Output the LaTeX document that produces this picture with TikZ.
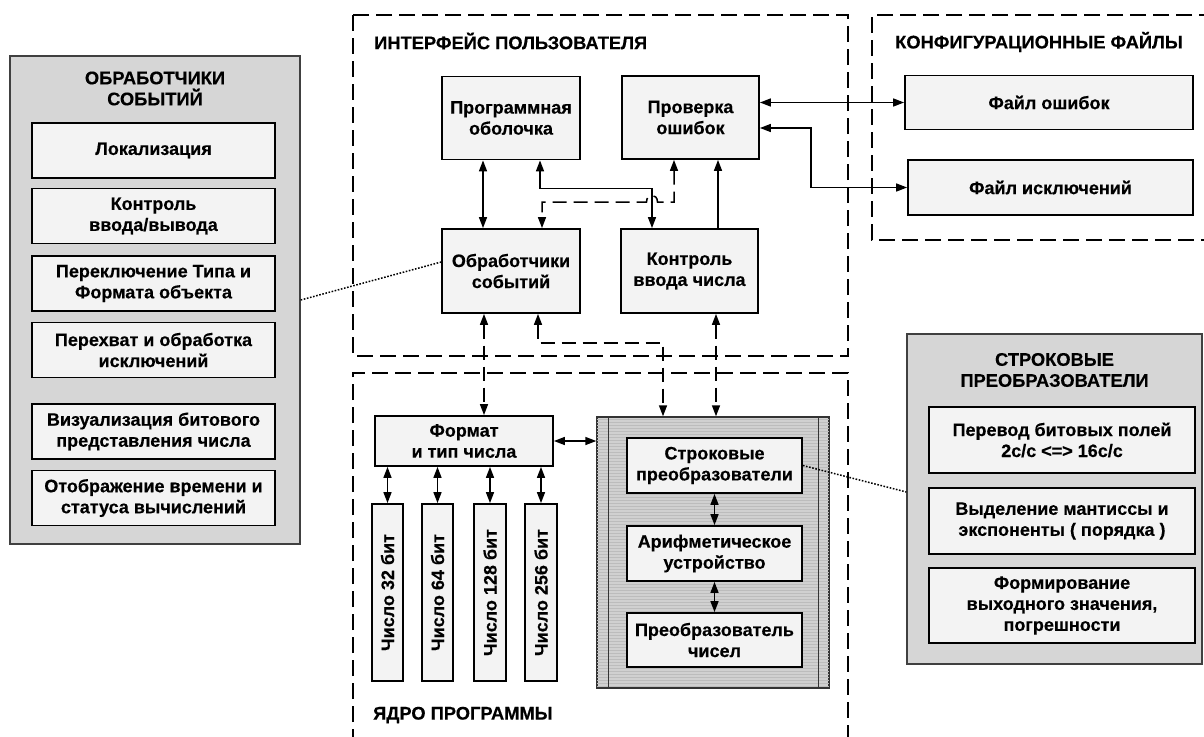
\documentclass[tikz,border=0pt]{standalone}
\usepackage{fontspec}
\usepackage{graphicx}
\setmainfont[BoldFeatures={FakeBold=0.35}]{Liberation Sans}
\usetikzlibrary{arrows.meta,calc}
\definecolor{boxfill}{RGB}{243,243,243}
\definecolor{panelfill}{RGB}{214,214,214}
\definecolor{shadefill}{RGB}{208,208,208}
\definecolor{shadeline}{RGB}{188,188,188}
\begin{document}
\begin{tikzpicture}[x=1pt,y=-1pt,
  lbl/.style={font=\fontsize{18}{21}\selectfont\bfseries, align=center, inner sep=0pt},
  ttl/.style={font=\fontsize{18.3}{21}\selectfont\bfseries, align=center, inner sep=0pt},
  box/.style={lbl, draw=black, line width=1.8pt, fill=boxfill},
  lbox/.style={box, minimum width=243, minimum height=55},
  rbox/.style={box, minimum width=266, minimum height=66},
  ubox/.style={box, minimum width=138, minimum height=83},
  sbox/.style={box, minimum width=175, minimum height=55},
  nbox/.style={box, minimum width=31, minimum height=177},
  panel/.style={draw=black!75, line width=1.4pt, fill=panelfill},
  frame/.style={line width=1.7pt, dash pattern=on 16pt off 7pt},
  dbl/.style={line width=1.5pt, {Triangle[length=11pt,width=8pt]}-{Triangle[length=11pt,width=8pt]}},
  one/.style={line width=1.5pt, -{Triangle[length=11pt,width=8pt]}},
  ddbl/.style={dbl, dash pattern=on 14pt off 7pt},
  link/.style={line width=1.5pt, dash pattern=on 1.6pt off 1.6pt}
]
\fill[white] (0,0) rectangle (1204,736);
\useasboundingbox (0,0) rectangle (1204,736);

% ---------- dashed frames ----------
\draw[frame] (353,15) rectangle (848,356);
\draw[frame] (353,745) -- (353,373) -- (848,373) -- (848,745);
\draw[frame] (1215,15) -- (872,15) -- (872,240) -- (1215,240);
\node[ttl, anchor=west] at (374,41) {ИНТЕРФЕЙС ПОЛЬЗОВАТЕЛЯ};
\node[ttl, anchor=west] at (373,715) {ЯДРО ПРОГРАММЫ};
\node[ttl, anchor=west] at (895,42) {КОНФИГУРАЦИОННЫЕ ФАЙЛЫ};

% ---------- event handlers panel ----------
\node[panel, minimum width=290, minimum height=488] (lpanel) at (155,300) {};
\node[ttl] (ltitle) at (155,88.5) {ОБРАБОТЧИКИ\\СОБЫТИЙ};
\node[lbox] (lok)  at (153.5,150.5) {Локализация};
\node[lbox] (kio)  at (153.5,216)   {Контроль\\ввода/вывода};
\node[lbox] (per)  at (153.5,283.5) {Переключение Типа и\\Формата объекта};
\node[lbox] (pexc) at (153.5,350)   {Перехват и обработка\\исключений};
\node[lbox] (viz)  at (153.5,431.5) {Визуализация битового\\представления числа};
\node[lbox] (otob) at (153.5,498)   {Отображение времени и\\статуса вычислений};

% ---------- string converters panel ----------
\node[panel, minimum width=295, minimum height=330] (rpanel) at (1054.5,499) {};
\node[ttl] (rtitle) at (1054.5,370) {СТРОКОВЫЕ\\ПРЕОБРАЗОВАТЕЛИ};
\node[rbox] (perv) at (1062,440) {Перевод битовых полей\\2с/с <=> 16с/с};
\node[rbox] (vyd)  at (1062,521) {Выделение мантиссы и\\экспоненты ( порядка )};
\node[rbox, minimum height=75] (form) at (1062,605.5) {Формирование\\выходного значения,\\погрешности};

% ---------- user interface ----------
\node[ubox] (prog)  at (511,118)    {Программная\\оболочка};
\node[ubox, minimum width=137] (prov)  at (690.5,117.5) {Проверка\\ошибок};
\node[ubox, minimum height=84] (obr)   at (511,271)    {Обработчики\\событий};
\node[ubox, minimum width=137, minimum height=84] (kontr) at (689.5,271) {Контроль\\ввода числа};

% ---------- configuration files ----------
\node[box, minimum width=288, minimum height=54] (ferr) at (1049,102.5) {Файл ошибок};
\node[box, minimum width=285, minimum height=55] (fexc) at (1050.5,187.5) {Файл исключений};

% ---------- program core ----------
\node[box, minimum width=178, minimum height=50] (fmt) at (464,441) {Формат\\и тип числа};
\node[nbox] (n32)  at (387.5,592.5) {\rotatebox{90}{Число 32 бит}};
\node[nbox] (n64)  at (437.5,592.5) {\rotatebox{90}{Число 64 бит}};
\node[nbox, minimum width=32] (n128) at (490,592.5) {\rotatebox{90}{Число 128 бит}};
\node[nbox, minimum width=32] (n256) at (541,592.5) {\rotatebox{90}{Число 256 бит}};

\node[draw=black!80, line width=1.4pt, fill=shadefill, minimum width=232, minimum height=271] (shade) at (713,552.5) {};
\begin{scope}
  \clip (shade.north west) rectangle (shade.south east);
  \foreach \k in {0,3,...,273}
    \draw[shadeline, line width=0.6pt] ($(shade.north west)+(0,\k)$) -- ($(shade.north east)+(0,\k)$);
\end{scope}
\draw[black!80, line width=1.4pt] (shade.north west) rectangle (shade.south east);
\draw[black!80, line width=1.4pt] ($(shade.north west)+(12,0)$) -- ($(shade.south west)+(12,0)$);
\draw[black!80, line width=1.4pt] ($(shade.north east)+(-11,0)$) -- ($(shade.south east)+(-11,0)$);
\node[sbox] (str)   at (714.5,465.5) {Строковые\\преобразователи};
\node[sbox] (arith) at (714.5,553.5) {Арифметическое\\устройство};
\node[sbox, minimum height=54] (conv) at (714.5,640) {Преобразователь\\чисел};

% ---------- connectors inside the interface ----------
\draw[dbl] ($(prog.south)+(-28,0)$) -- ($(obr.north)+(-28,0)$);
\draw[dbl] ($(prog.south)+(29,0)$) -- ++(0,28) -| ($(kontr.north)+(-37.5,0)$);
\coordinate (hopR) at ($(kontr.north)+(-32,-26)$);
\coordinate (hopL) at ($(kontr.north)+(-43,-26)$);
\draw[ddbl] ($(prov.south)+(-16.5,0)$) |- (hopR)
  .. controls ($(hopR)+(0,-9)$) and ($(hopL)+(0,-9)$) .. (hopL)
  -| ($(obr.north)+(31,0)$);
\draw[one] ($(kontr.north)+(28.5,0)$) -- ($(prov.south)+(27.5,0)$);

% ---------- to configuration files ----------
\draw[dbl] (prov.east |- ferr.west) -- (ferr.west);
\draw[dbl] ($(prov.east)+(0,10.5)$) -- ++(51,0) |- (fexc.west);

% ---------- interface to core ----------
\draw[ddbl] ($(obr.south)+(-27,0)$) -- ($(fmt.north)+(20,0)$);
\draw[ddbl] ($(obr.south)+(27,0)$) -- ++(0,29) -| ($(shade.north)+(-50,0)$);
\draw[ddbl] ($(kontr.south)+(26.5,0)$) -- ($(shade.north)+(3,0)$);

% ---------- inside the core ----------
\draw[dbl] (fmt.east) -- (fmt.east -| shade.west);
\foreach \n in {n32,n64,n128,n256}
  \draw[dbl] (\n.north |- fmt.south) -- (\n.north);
\draw[dbl] (str.south) -- (arith.north);
\draw[dbl] (arith.south) -- (conv.north);

% ---------- dotted links to detail panels ----------
\draw[link] (lpanel.east) -- ($(obr.west)+(0,-9)$);
\draw[link] (str.east) -- ($(rpanel.west)+(0,-7)$);
\end{tikzpicture}
\end{document}
